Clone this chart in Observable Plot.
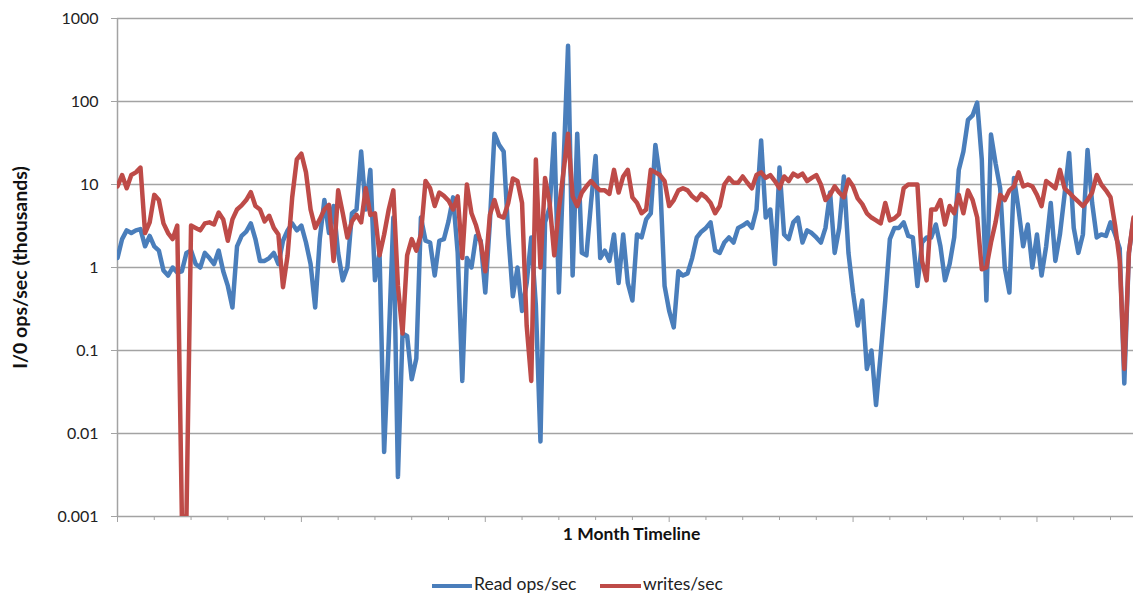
<!DOCTYPE html>
<html>
<head>
<meta charset="utf-8">
<script src="https://cdn.jsdelivr.net/npm/d3@7"></script>
<script src="https://cdn.jsdelivr.net/npm/@observablehq/plot@0.6"></script>
<style>
  body { margin: 0; background: #fff; font-family: Lato, "Open Sans", sans-serif; }
  #legend { position: relative; height: 34px; font-size: 17.5px; color: #222; }
  #legend span { position: absolute; }
  .sw { height: 4px; top: 24px; }
  .lt { top: 14px; line-height: 20px; white-space: nowrap; }
</style>
</head>
<body>
<div id="chart"></div>
<div id="legend">
  <span class="sw" style="left:432px; width:40px; background:#4a7ebb"></span><span class="lt" style="left:474px">Read ops/sec</span>
  <span class="sw" style="left:600px; width:41px; background:#be4b48"></span><span class="lt" style="left:643px">writes/sec</span>
</div>
<script>
// 3-hour samples over the month (8 per day)
const samplesPerDay = 8;

const reads = [
  1.3, 2.2, 2.8, 2.6, 2.8, 2.9, 1.8, 2.4, 1.8, 1.6,
  0.92, 0.8, 1, 0.87, 0.9, 1.5, 1.6, 1.1, 1, 1.5,
  1.3, 1.1, 1.6, 0.9, 0.6, 0.33, 1.8, 2.4, 2.7, 3.4,
  2.2, 1.2, 1.2, 1.3, 1.5, 1.1, 2.1, 2.8, 3.4, 2.8,
  3.2, 2, 1.1, 0.33, 2.2, 6.5, 2.6, 5.5, 1.5, 0.7,
  1, 4.5, 5, 25, 5, 15, 0.7, 1.5, 0.006, 0.13,
  4, 0.003, 0.16, 0.15, 0.045, 0.08, 4, 2.1, 2, 0.8,
  2.1, 2.2, 3.6, 7, 1.5, 0.043, 1.3, 1, 2.4, 2.1,
  0.5, 3.5, 41, 30, 25, 2.5, 0.45, 1, 0.3, 0.65,
  2.3, 0.35, 0.008, 3.5, 5.3, 41, 0.5, 16, 470, 0.8,
  41, 1.5, 1.4, 6, 22, 1.3, 1.6, 1.2, 2.5, 0.65,
  2.5, 0.65, 0.4, 2.5, 2.3, 3.8, 4.5, 30, 12, 0.6,
  0.3, 0.19, 0.9, 0.8, 0.85, 1.3, 2.3, 2.7, 3, 3.5,
  1.6, 1.5, 2, 2.3, 2, 3, 3.2, 3.5, 3, 5,
  34, 4, 5, 1.1, 16, 2.5, 2.2, 3.5, 4, 2,
  2.8, 2.6, 2.3, 2, 3, 8, 1.5, 3, 12.5, 1.5,
  0.5, 0.2, 0.4, 0.06, 0.1, 0.022, 0.09, 0.4, 2.2, 3,
  3, 3.5, 2.4, 2.3, 0.6, 2, 2.3, 2.3, 3.3, 1.8,
  0.7, 1.1, 2.3, 15, 25, 60, 68, 97, 20, 0.4,
  40, 18, 9, 1, 0.5, 12, 5, 1.8, 3.3, 1,
  2.5, 0.8, 1.8, 6, 1.2, 2.5, 7.5, 24, 3, 1.5,
  2.5, 26, 6, 2.3, 2.5, 2.4, 3.5, 2.5, 1.7, 0.04,
  1.5, 3.8
];

const writes = [
  9.5, 13, 9, 13, 14, 16, 2.6, 3.5, 7.5, 6.5,
  3.4, 2.6, 2.2, 3.2, 0.001, 0.001, 3.2, 3, 2.8, 3.4,
  3.5, 3.3, 4.6, 3.8, 2.1, 3.8, 5, 5.6, 6.5, 8.1,
  5.5, 5, 3.6, 4.2, 3, 2.5, 0.58, 1.4, 7, 20,
  23.5, 14, 5, 3, 3.8, 5, 5.7, 1.2, 8.5, 4.5,
  2.3, 3.6, 4.3, 3.5, 9, 4.3, 4.5, 1.4, 2.5, 5,
  8.5, 0.6, 0.16, 1.4, 2.2, 1.6, 2.5, 11, 9, 5.5,
  8, 7.3, 6.4, 5, 7.2, 1.3, 10, 4.5, 3.2, 2,
  0.9, 4.3, 6.5, 4.2, 4, 6, 11.8, 11, 6, 0.2,
  0.043, 20, 1, 12, 6, 1.4, 5, 14, 41, 7.2,
  5.5, 8, 9.5, 11, 9.5, 8.5, 8.5, 7.7, 15, 8,
  12.5, 15, 7, 6, 4.5, 5, 15, 14, 13, 11,
  5.5, 6.5, 8.5, 9, 8.5, 7.2, 6.5, 7.7, 7, 6,
  4.5, 5.5, 10, 12, 10.5, 10.5, 12.5, 10.5, 9, 13,
  14, 12, 13, 11, 9, 12.5, 11, 13.5, 12.5, 13.5,
  11, 12, 13, 10, 6.5, 7.5, 9.5, 8, 7, 11.5,
  9.5, 6.8, 5.8, 4.5, 4, 3.7, 3.4, 6, 3.7, 3.9,
  4.4, 9, 10, 10, 10, 1.2, 0.7, 5, 5, 6.5,
  3.3, 5.5, 4.5, 7.5, 4.5, 8.5, 6.5, 4, 0.95, 1,
  2, 3.5, 7.5, 6.5, 8.5, 9.5, 14, 9.5, 10, 9.5,
  7.5, 5.5, 11, 10, 9, 15, 9, 8, 7, 6.2,
  5.5, 6.5, 8, 13, 10, 8.5, 7, 3.2, 1.2, 0.06,
  1.5, 4
];

const yTickValues = [0.001, 0.01, 0.1, 1, 10, 100, 1000];
const yTickLabels = ["0.001", "0.01", "0.1", "1", "10", "100", "1000"];
const dayTicks = d3.range(0, 28);
const majorDayTicks = dayTicks.filter(d => d % 5 === 0);
const minorDayTicks = dayTicks.filter(d => d % 5 !== 0);
const xTitle = "1 Month Timeline";
const yTitle = "I/0 ops/sec (thousands)";

const data = reads.map((r, i) => ({t: i / samplesPerDay, reads: r, writes: writes[i]}));
const lastT = (reads.length - 1) / samplesPerDay;

const gridColor = "#a3a3a3";
const chart = Plot.plot({
  width: 1135,
  height: 560,
  marginLeft: 117,
  marginRight: 2,
  marginTop: 18,
  marginBottom: 44,
  style: {fontFamily: "Lato, 'Open Sans', sans-serif", background: "#fff"},
  x: {domain: [0, lastT], axis: null},
  y: {type: "log", domain: [0.001, 1000], axis: null},
  marks: [
    Plot.ruleY(yTickValues, {stroke: gridColor, strokeWidth: 1.5}),
    Plot.ruleX([0], {stroke: gridColor, strokeWidth: 1.5}),
    Plot.axisY({ticks: yTickValues, tickSize: 6, tickPadding: 13, fontSize: 16,
      tickFormat: d => yTickLabels[yTickValues.indexOf(d)], stroke: gridColor, fill: "#222", label: null}),
    Plot.axisX({ticks: minorDayTicks, tickSize: 4, tickFormat: () => "", stroke: gridColor, label: null}),
    Plot.axisX({ticks: majorDayTicks, tickSize: 6, tickFormat: () => "", stroke: gridColor, label: null}),
    Plot.line(data, {x: "t", y: "reads", stroke: "#4a7ebb", strokeWidth: 4.5, strokeLinejoin: "round", strokeLinecap: "round", clip: true}),
    Plot.line(data, {x: "t", y: "writes", stroke: "#be4b48", strokeWidth: 4.5, strokeLinejoin: "round", strokeLinecap: "round", clip: true}),
    Plot.text([xTitle], {frameAnchor: "bottom", dx: 6, dy: 23, fontSize: 17.5, fontWeight: "bold", fill: "#111"}),
    Plot.text([yTitle], {frameAnchor: "left", textAnchor: "middle", dx: -97, rotate: -90, fontSize: 19.5, fontWeight: "bold", fill: "#111"})
  ]
});
document.getElementById("chart").appendChild(chart);
</script>
</body>
</html>
